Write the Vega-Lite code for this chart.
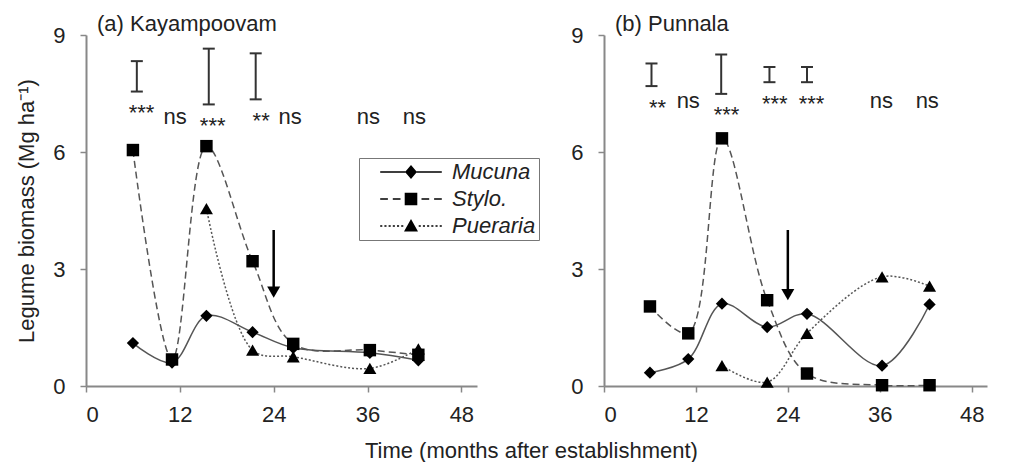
{
  "$schema": "https://vega.github.io/schema/vega-lite/v6.json",
  "padding": {"left": 15, "top": 13, "right": 5, "bottom": 0},
  "spacing": 93,
  "title": {
    "text": "Time (months after establishment)",
    "orient": "bottom",
    "anchor": "middle",
    "font": "Liberation Sans",
    "fontSize": 22,
    "fontWeight": "normal",
    "color": "#222",
    "dx": 30,
    "offset": 16
  },
  "datasets": {
    "biomass": [
      {"site": "Kayampoovam", "species": "Mucuna", "month": 6, "biomass": 1.1},
      {"site": "Kayampoovam", "species": "Mucuna", "month": 11, "biomass": 0.6},
      {"site": "Kayampoovam", "species": "Mucuna", "month": 15.4, "biomass": 1.8},
      {"site": "Kayampoovam", "species": "Mucuna", "month": 21.3, "biomass": 1.38},
      {"site": "Kayampoovam", "species": "Mucuna", "month": 26.5, "biomass": 0.98},
      {"site": "Kayampoovam", "species": "Mucuna", "month": 36.3, "biomass": 0.85},
      {"site": "Kayampoovam", "species": "Mucuna", "month": 42.5, "biomass": 0.66},
      {"site": "Kayampoovam", "species": "Stylo.", "month": 6, "biomass": 6.05},
      {"site": "Kayampoovam", "species": "Stylo.", "month": 11, "biomass": 0.68},
      {"site": "Kayampoovam", "species": "Stylo.", "month": 15.4, "biomass": 6.15},
      {"site": "Kayampoovam", "species": "Stylo.", "month": 21.3, "biomass": 3.2},
      {"site": "Kayampoovam", "species": "Stylo.", "month": 26.5, "biomass": 1.08},
      {"site": "Kayampoovam", "species": "Stylo.", "month": 36.3, "biomass": 0.92},
      {"site": "Kayampoovam", "species": "Stylo.", "month": 42.5, "biomass": 0.8},
      {"site": "Kayampoovam", "species": "Pueraria", "month": 15.4, "biomass": 4.55},
      {"site": "Kayampoovam", "species": "Pueraria", "month": 21.3, "biomass": 0.92},
      {"site": "Kayampoovam", "species": "Pueraria", "month": 26.5, "biomass": 0.75},
      {"site": "Kayampoovam", "species": "Pueraria", "month": 36.3, "biomass": 0.45},
      {"site": "Kayampoovam", "species": "Pueraria", "month": 42.5, "biomass": 0.95},
      {"site": "Punnala", "species": "Mucuna", "month": 6, "biomass": 0.34},
      {"site": "Punnala", "species": "Mucuna", "month": 11, "biomass": 0.69},
      {"site": "Punnala", "species": "Mucuna", "month": 15.4, "biomass": 2.11},
      {"site": "Punnala", "species": "Mucuna", "month": 21.3, "biomass": 1.51},
      {"site": "Punnala", "species": "Mucuna", "month": 26.5, "biomass": 1.85},
      {"site": "Punnala", "species": "Mucuna", "month": 36.3, "biomass": 0.52},
      {"site": "Punnala", "species": "Mucuna", "month": 42.5, "biomass": 2.09},
      {"site": "Punnala", "species": "Stylo.", "month": 6, "biomass": 2.04},
      {"site": "Punnala", "species": "Stylo.", "month": 11, "biomass": 1.35},
      {"site": "Punnala", "species": "Stylo.", "month": 15.4, "biomass": 6.35},
      {"site": "Punnala", "species": "Stylo.", "month": 21.3, "biomass": 2.2},
      {"site": "Punnala", "species": "Stylo.", "month": 26.5, "biomass": 0.32},
      {"site": "Punnala", "species": "Stylo.", "month": 36.3, "biomass": 0.02},
      {"site": "Punnala", "species": "Stylo.", "month": 42.5, "biomass": 0.02},
      {"site": "Punnala", "species": "Pueraria", "month": 15.4, "biomass": 0.52},
      {"site": "Punnala", "species": "Pueraria", "month": 21.3, "biomass": 0.1},
      {"site": "Punnala", "species": "Pueraria", "month": 26.5, "biomass": 1.35},
      {"site": "Punnala", "species": "Pueraria", "month": 36.3, "biomass": 2.8},
      {"site": "Punnala", "species": "Pueraria", "month": 42.5, "biomass": 2.56}
    ],
    "lsd": [
      {"site": "Kayampoovam", "month": 6.5, "low": 7.55, "high": 8.33},
      {"site": "Kayampoovam", "month": 15.7, "low": 7.22, "high": 8.65},
      {"site": "Kayampoovam", "month": 21.7, "low": 7.35, "high": 8.53},
      {"site": "Punnala", "month": 6.2, "low": 7.69, "high": 8.27},
      {"site": "Punnala", "month": 15.3, "low": 7.49, "high": 8.5},
      {"site": "Punnala", "month": 21.6, "low": 7.79, "high": 8.18},
      {"site": "Punnala", "month": 26.5, "low": 7.79, "high": 8.18}
    ],
    "signif": [
      {"site": "Kayampoovam", "month": 7.1, "at": 6.81, "label": "***"},
      {"site": "Kayampoovam", "month": 11.4, "at": 6.73, "label": "ns"},
      {"site": "Kayampoovam", "month": 16.2, "at": 6.49, "label": "***"},
      {"site": "Kayampoovam", "month": 22.4, "at": 6.62, "label": "**"},
      {"site": "Kayampoovam", "month": 26.1, "at": 6.73, "label": "ns"},
      {"site": "Kayampoovam", "month": 36.1, "at": 6.73, "label": "ns"},
      {"site": "Kayampoovam", "month": 42.0, "at": 6.73, "label": "ns"},
      {"site": "Punnala", "month": 7.0, "at": 6.95, "label": "**"},
      {"site": "Punnala", "month": 11.0, "at": 7.12, "label": "ns"},
      {"site": "Punnala", "month": 16.0, "at": 6.78, "label": "***"},
      {"site": "Punnala", "month": 22.3, "at": 7.05, "label": "***"},
      {"site": "Punnala", "month": 27.1, "at": 7.05, "label": "***"},
      {"site": "Punnala", "month": 36.2, "at": 7.12, "label": "ns"},
      {"site": "Punnala", "month": 42.2, "at": 7.12, "label": "ns"}
    ],
    "cut": [
      {"site": "Kayampoovam", "month": 24, "from": 4.0, "to": 2.41},
      {"site": "Punnala", "month": 24, "from": 4.0, "to": 2.34}
    ]
  },
  "hconcat": [
    {
      "width": 391,
      "height": 351,
      "layer": [
        {
          "data": {"name": "biomass"},
          "transform": [{"filter": "datum.site === 'Kayampoovam' && datum.species === 'Mucuna'"}],
          "mark": {"type": "line", "interpolate": "catmull-rom", "strokeWidth": 1.5, "color": "#555"},
          "encoding": {
            "x": {"field": "month", "type": "quantitative", "scale": {"domain": [0, 48]}, "axis": {"values": [0, 12, 24, 36, 48], "title": null}},
            "y": {"field": "biomass", "type": "quantitative", "scale": {"domain": [0, 9]}, "axis": {"values": [0, 3, 6, 9], "title": "Legume biomass (Mg ha⁻¹)"}}
          }
        },
        {
          "data": {"name": "biomass"},
          "transform": [{"filter": "datum.site === 'Kayampoovam' && datum.species === 'Stylo.'"}],
          "mark": {"type": "line", "interpolate": "catmull-rom", "strokeWidth": 1.5, "color": "#555", "strokeDash": [7, 4]},
          "encoding": {"x": {"field": "month", "type": "quantitative"}, "y": {"field": "biomass", "type": "quantitative"}}
        },
        {
          "data": {"name": "biomass"},
          "transform": [{"filter": "datum.site === 'Kayampoovam' && datum.species === 'Pueraria'"}],
          "mark": {"type": "line", "interpolate": "catmull-rom", "strokeWidth": 1.5, "color": "#555", "strokeDash": [2, 2]},
          "encoding": {"x": {"field": "month", "type": "quantitative"}, "y": {"field": "biomass", "type": "quantitative"}}
        },
        {
          "data": {"name": "biomass"},
          "transform": [{"filter": "datum.site === 'Kayampoovam' && datum.species === 'Mucuna'"}],
          "mark": {"type": "point", "shape": "diamond", "size": 150, "filled": true, "color": "black"},
          "encoding": {
            "x": {"field": "month", "type": "quantitative"},
            "y": {"field": "biomass", "type": "quantitative"},
            "opacity": {
              "field": "species", "type": "nominal",
              "scale": {"domain": ["Mucuna", "Stylo.", "Pueraria"], "range": [1, 1, 1]},
              "legend": {
                "orient": "none", "legendX": 273, "legendY": 123,
                "title": null,
                "symbolType": {"expr": "datum.value === 'Mucuna' ? 'M-4.4,-0.1H-0.8V0.1H-4.4ZM0.8,-0.1H4.4V0.1H0.8ZM0,-1L0.85,0L0,1L-0.85,0Z' : datum.value === 'Stylo.' ? 'M-4.4,-0.1H-3.3V0.1H-4.4ZM-2.6,-0.1H-1.5V0.1H-2.6ZM1.5,-0.1H2.6V0.1H1.5ZM3.3,-0.1H4.4V0.1H3.3ZM-0.9,-0.9H0.9V0.9H-0.9Z' : 'M-4.4,-0.1H-4.1V0.1H-4.4ZM-3.8,-0.1H-3.5V0.1H-3.8ZM-3.2,-0.1H-2.9V0.1H-3.2ZM-2.6,-0.1H-2.3V0.1H-2.6ZM-2.0,-0.1H-1.7V0.1H-2.0ZM-1.4,-0.1H-1.1V0.1H-1.4ZM1.1,-0.1H1.4V0.1H1.1ZM1.7,-0.1H2.0V0.1H1.7ZM2.3,-0.1H2.6V0.1H2.3ZM2.9,-0.1H3.2V0.1H2.9ZM3.5,-0.1H3.8V0.1H3.5ZM4.1,-0.1H4.4V0.1H4.1ZM0,-1L1,0.8L-1,0.8Z'"},
                "symbolSize": 196, "symbolOffset": 38, "labelOffset": 30,
                "symbolFillColor": "black",
                "labelFont": "Liberation Sans", "labelFontSize": 22, "labelFontStyle": "italic", "labelColor": "#222",
                "padding": 3, "rowPadding": 5,
                "strokeColor": "#777", "fillColor": "white"
              }
            }
          }
        },
        {
          "data": {"name": "biomass"},
          "transform": [{"filter": "datum.site === 'Kayampoovam' && datum.species === 'Stylo.'"}],
          "mark": {"type": "point", "shape": "square", "size": 155, "filled": true, "color": "black", "opacity": 1},
          "encoding": {"x": {"field": "month", "type": "quantitative"}, "y": {"field": "biomass", "type": "quantitative"}}
        },
        {
          "data": {"name": "biomass"},
          "transform": [{"filter": "datum.site === 'Kayampoovam' && datum.species === 'Pueraria'"}],
          "mark": {"type": "point", "shape": "triangle-up", "size": 170, "filled": true, "color": "black", "opacity": 1},
          "encoding": {"x": {"field": "month", "type": "quantitative"}, "y": {"field": "biomass", "type": "quantitative"}}
        },
        {
          "data": {"name": "lsd"},
          "transform": [{"filter": "datum.site === 'Kayampoovam'"}],
          "mark": {"type": "rule", "strokeWidth": 2, "color": "#333"},
          "encoding": {"x": {"field": "month", "type": "quantitative"}, "y": {"field": "low", "type": "quantitative"}, "y2": {"field": "high"}}
        },
        {
          "data": {"name": "lsd"},
          "transform": [{"filter": "datum.site === 'Kayampoovam'"}],
          "mark": {"type": "tick", "orient": "horizontal", "size": 12, "thickness": 2, "color": "#333", "opacity": 1},
          "encoding": {"x": {"field": "month", "type": "quantitative"}, "y": {"field": "low", "type": "quantitative"}}
        },
        {
          "data": {"name": "lsd"},
          "transform": [{"filter": "datum.site === 'Kayampoovam'"}],
          "mark": {"type": "tick", "orient": "horizontal", "size": 12, "thickness": 2, "color": "#333", "opacity": 1},
          "encoding": {"x": {"field": "month", "type": "quantitative"}, "y": {"field": "high", "type": "quantitative"}}
        },
        {
          "data": {"name": "signif"},
          "transform": [{"filter": "datum.site === 'Kayampoovam'"}],
          "mark": {"type": "text", "fontSize": 22, "font": "Liberation Sans", "baseline": "alphabetic", "align": "center", "color": "#222"},
          "encoding": {"x": {"field": "month", "type": "quantitative"}, "y": {"field": "at", "type": "quantitative"}, "text": {"field": "label"}}
        },
        {
          "data": {"name": "cut"},
          "transform": [{"filter": "datum.site === 'Kayampoovam'"}],
          "mark": {"type": "rule", "strokeWidth": 2.5, "color": "black"},
          "encoding": {"x": {"field": "month", "type": "quantitative"}, "y": {"field": "from", "type": "quantitative"}, "y2": {"field": "to"}}
        },
        {
          "data": {"name": "cut"},
          "transform": [{"filter": "datum.site === 'Kayampoovam'"}],
          "mark": {"type": "point", "shape": "triangle-down", "size": 169, "filled": true, "color": "black", "opacity": 1},
          "encoding": {"x": {"field": "month", "type": "quantitative"}, "y": {"field": "to", "type": "quantitative"}}
        },
        {
          "data": {"values": [{}]},
          "mark": {"type": "text", "fontSize": 22, "font": "Liberation Sans", "align": "left", "baseline": "alphabetic", "dx": 11, "dy": -4, "color": "#222"},
          "encoding": {"x": {"datum": 0}, "y": {"datum": 9}, "text": {"value": "(a) Kayampoovam"}}
        }
      ]
    },
    {
      "width": 383,
      "height": 351,
      "layer": [
        {
          "data": {"name": "biomass"},
          "transform": [{"filter": "datum.site === 'Punnala' && datum.species === 'Mucuna'"}],
          "mark": {"type": "line", "interpolate": "catmull-rom", "strokeWidth": 1.5, "color": "#555"},
          "encoding": {
            "x": {"field": "month", "type": "quantitative", "scale": {"domain": [0, 48]}, "axis": {"values": [0, 12, 24, 36, 48], "title": null}},
            "y": {"field": "biomass", "type": "quantitative", "scale": {"domain": [0, 9]}, "axis": {"values": [0, 3, 6, 9], "title": null}}
          }
        },
        {
          "data": {"name": "biomass"},
          "transform": [{"filter": "datum.site === 'Punnala' && datum.species === 'Stylo.'"}],
          "mark": {"type": "line", "interpolate": "catmull-rom", "strokeWidth": 1.5, "color": "#555", "strokeDash": [7, 4]},
          "encoding": {"x": {"field": "month", "type": "quantitative"}, "y": {"field": "biomass", "type": "quantitative"}}
        },
        {
          "data": {"name": "biomass"},
          "transform": [{"filter": "datum.site === 'Punnala' && datum.species === 'Pueraria'"}],
          "mark": {"type": "line", "interpolate": "catmull-rom", "strokeWidth": 1.5, "color": "#555", "strokeDash": [2, 2]},
          "encoding": {"x": {"field": "month", "type": "quantitative"}, "y": {"field": "biomass", "type": "quantitative"}}
        },
        {
          "data": {"name": "biomass"},
          "transform": [{"filter": "datum.site === 'Punnala' && datum.species === 'Mucuna'"}],
          "mark": {"type": "point", "shape": "diamond", "size": 150, "filled": true, "color": "black", "opacity": 1},
          "encoding": {"x": {"field": "month", "type": "quantitative"}, "y": {"field": "biomass", "type": "quantitative"}}
        },
        {
          "data": {"name": "biomass"},
          "transform": [{"filter": "datum.site === 'Punnala' && datum.species === 'Stylo.'"}],
          "mark": {"type": "point", "shape": "square", "size": 155, "filled": true, "color": "black", "opacity": 1},
          "encoding": {"x": {"field": "month", "type": "quantitative"}, "y": {"field": "biomass", "type": "quantitative"}}
        },
        {
          "data": {"name": "biomass"},
          "transform": [{"filter": "datum.site === 'Punnala' && datum.species === 'Pueraria'"}],
          "mark": {"type": "point", "shape": "triangle-up", "size": 170, "filled": true, "color": "black", "opacity": 1},
          "encoding": {"x": {"field": "month", "type": "quantitative"}, "y": {"field": "biomass", "type": "quantitative"}}
        },
        {
          "data": {"name": "lsd"},
          "transform": [{"filter": "datum.site === 'Punnala'"}],
          "mark": {"type": "rule", "strokeWidth": 2, "color": "#333"},
          "encoding": {"x": {"field": "month", "type": "quantitative"}, "y": {"field": "low", "type": "quantitative"}, "y2": {"field": "high"}}
        },
        {
          "data": {"name": "lsd"},
          "transform": [{"filter": "datum.site === 'Punnala'"}],
          "mark": {"type": "tick", "orient": "horizontal", "size": 12, "thickness": 2, "color": "#333", "opacity": 1},
          "encoding": {"x": {"field": "month", "type": "quantitative"}, "y": {"field": "low", "type": "quantitative"}}
        },
        {
          "data": {"name": "lsd"},
          "transform": [{"filter": "datum.site === 'Punnala'"}],
          "mark": {"type": "tick", "orient": "horizontal", "size": 12, "thickness": 2, "color": "#333", "opacity": 1},
          "encoding": {"x": {"field": "month", "type": "quantitative"}, "y": {"field": "high", "type": "quantitative"}}
        },
        {
          "data": {"name": "signif"},
          "transform": [{"filter": "datum.site === 'Punnala'"}],
          "mark": {"type": "text", "fontSize": 22, "font": "Liberation Sans", "baseline": "alphabetic", "align": "center", "color": "#222"},
          "encoding": {"x": {"field": "month", "type": "quantitative"}, "y": {"field": "at", "type": "quantitative"}, "text": {"field": "label"}}
        },
        {
          "data": {"name": "cut"},
          "transform": [{"filter": "datum.site === 'Punnala'"}],
          "mark": {"type": "rule", "strokeWidth": 2.5, "color": "black"},
          "encoding": {"x": {"field": "month", "type": "quantitative"}, "y": {"field": "from", "type": "quantitative"}, "y2": {"field": "to"}}
        },
        {
          "data": {"name": "cut"},
          "transform": [{"filter": "datum.site === 'Punnala'"}],
          "mark": {"type": "point", "shape": "triangle-down", "size": 169, "filled": true, "color": "black", "opacity": 1},
          "encoding": {"x": {"field": "month", "type": "quantitative"}, "y": {"field": "to", "type": "quantitative"}}
        },
        {
          "data": {"values": [{}]},
          "mark": {"type": "text", "fontSize": 22, "font": "Liberation Sans", "align": "left", "baseline": "alphabetic", "dx": 11, "dy": -4, "color": "#222"},
          "encoding": {"x": {"datum": 0}, "y": {"datum": 9}, "text": {"value": "(b) Punnala"}}
        }
      ]
    }
  ],
  "config": {
    "font": "Liberation Sans",
    "view": {"stroke": null},
    "title": {"font": "Liberation Sans", "fontSize": 22, "fontWeight": "normal", "color": "#222"},
    "axis": {
      "grid": false,
      "domainColor": "#888",
      "domainWidth": 2,
      "tickColor": "#888",
      "tickWidth": 1.5,
      "tickSize": 6,
      "labelFont": "Liberation Sans",
      "labelFontSize": 22,
      "labelColor": "#222",
      "titleFont": "Liberation Sans",
      "titleFontSize": 22,
      "titleFontWeight": "normal",
      "titleColor": "#222"
    },
    "axisX": {"labelPadding": 12},
    "axisY": {"labelPadding": 15, "titlePadding": 14}
  }
}
